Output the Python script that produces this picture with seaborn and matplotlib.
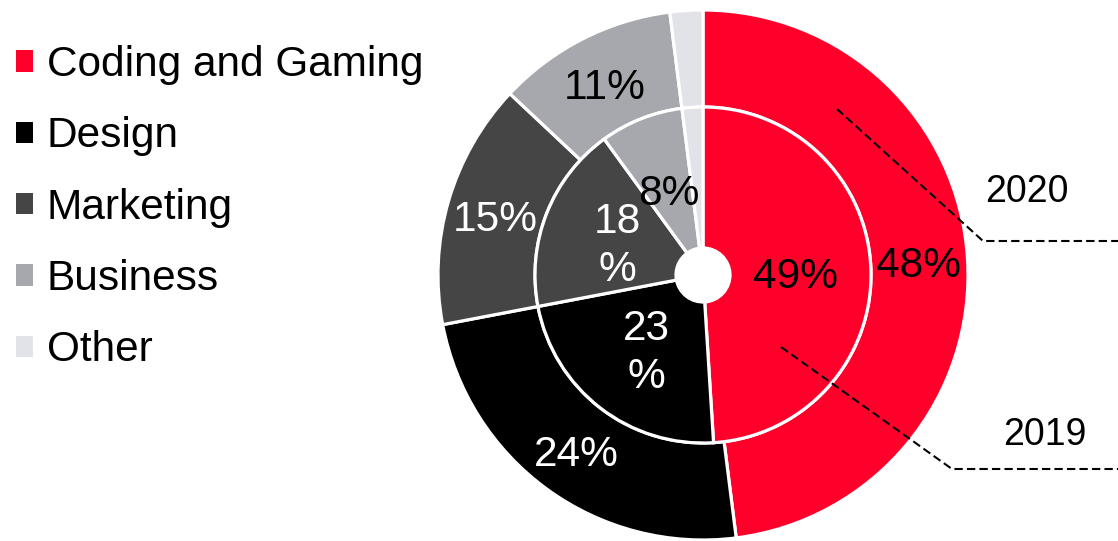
import matplotlib
matplotlib.use("Agg")
import matplotlib.pyplot as plt
import matplotlib.transforms as mtrans
import seaborn as sns
from matplotlib.patches import Patch

# ---- data ----
categories = ["Coding and Gaming", "Design", "Marketing", "Business", "Other"]
values_2020 = [48, 24, 15, 11, 2]
values_2019 = [49, 23, 18, 8, 2]
labels_2020 = ["48%", "24%", "15%", "11%", ""]
labels_2019 = ["49%", "23\n%", "18\n%", "8%", ""]
colors = ["#FF002B", "#000000", "#454545", "#A7A8AD", "#E2E3E8"]
text_colors_2020 = ["black", "white", "white", "black", "black"]
text_colors_2019 = ["black", "white", "white", "black", "black"]
years = ["2020", "2019"]

sns.set_theme(style="white")
plt.rcParams["font.family"] = ["Liberation Sans", "DejaVu Sans"]
plt.rcParams["text.color"] = "black"

W, H = 1118, 541
fig = plt.figure(figsize=(W / 100, H / 100), dpi=100)
ax = fig.add_axes([0, 0, 1, 1])

R_OUT = 1.0
R_MID = 168 / 265
R_HOLE = 27 / 265

wedges_o, texts_o = ax.pie(
    values_2020, radius=R_OUT, colors=colors, startangle=90, counterclock=False,
    labels=labels_2020, labeldistance=0.815,
    wedgeprops=dict(width=R_OUT - R_MID, edgecolor="white", linewidth=2.3),
    textprops=dict(fontsize=30.5),
)
wedges_i, texts_i = ax.pie(
    values_2019, radius=R_MID, colors=colors, startangle=90, counterclock=False,
    labels=labels_2019, labeldistance=0.55,
    wedgeprops=dict(width=R_MID - R_HOLE, edgecolor="white", linewidth=2.3),
    textprops=dict(fontsize=30.5, linespacing=1.25),
)
shift = mtrans.ScaledTranslation(0, -5 / 100, fig.dpi_scale_trans)
for t, c in zip(texts_o, text_colors_2020):
    t.set_ha("center"); t.set_va("center"); t.set_color(c)
    t.set_transform(t.get_transform() + shift)
for t, c in zip(texts_i, text_colors_2019):
    t.set_ha("center"); t.set_va("center"); t.set_color(c)
    t.set_transform(t.get_transform() + shift)

# layout: centre at pixel (703, 275), outer radius 265 px
cx, cy, rpx = 703, 275, 265
ax.set_xlim((0 - cx) / rpx, (W - cx) / rpx)
ax.set_ylim((cy - H) / rpx, cy / rpx)
ax.set_aspect("equal")
ax.axis("off")

# leader lines for the ring years
def p(px, py):
    return (px - cx) / rpx, (cy - py) / rpx

dash = (0, (4, 2))
for pts, txt, tpos in [
    ([(837, 109), (983, 241), (1120, 241)], years[0], (1027, 192)),
    ([(781, 347), (952, 469), (1120, 469)], years[1], (1045, 435)),
]:
    xy = [p(*q) for q in pts]
    ax.plot([a for a, b in xy], [b for a, b in xy], color="black", lw=1.5,
            linestyle=dash, solid_capstyle="butt")
    ax.text(*p(*tpos), txt, fontsize=27, ha="center", va="center", color="black")

handles = [Patch(facecolor=c, edgecolor="none") for c in colors]
leg = fig.legend(handles, categories, loc="upper left",
                 bbox_to_anchor=(-3 / W, 1 - 26 / H), frameon=False, fontsize=30.5,
                 handlelength=0.4, handleheight=0.4, handletextpad=0.33,
                 labelspacing=0.74, borderaxespad=0.0, borderpad=0.45,
                 labelcolor="black")

fig.savefig("out.png", dpi=100, facecolor="white")
